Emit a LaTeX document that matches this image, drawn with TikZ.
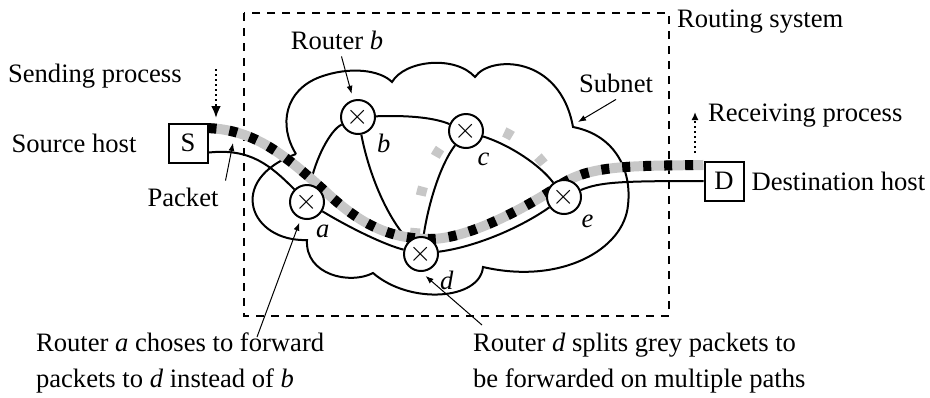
\documentclass[tikz,border=0pt]{standalone}
\usepackage{fontspec}
\setmainfont{Liberation Serif}
\usepackage{tikz}
\usetikzlibrary{positioning, arrows.meta, backgrounds, calc}
\definecolor{pktgrey}{gray}{0.78}
\tikzstyle{router}=[%
      circle, draw=black, line width=1pt, fill=white,
      minimum size=17pt, inner sep=0pt
]
\tikzstyle{host}=[%
      rectangle, draw=black, line width=1pt, fill=white,
      minimum size=19.5pt, inner sep=0pt
]
\tikzstyle{lbl}=[%
      inner sep=1pt, label distance=2pt
]
\tikzstyle{link}=[%
      line width=1pt
]
\tikzstyle{note}=[%
      line width=0.5pt, -{Latex[length=4pt,width=3pt]}
]
\tikzstyle{proc}=[%
      line width=1.2pt, dash pattern=on 1.2pt off 1.3pt
]
\tikzstyle{sysframe}=[%
      line width=1pt, dash pattern=on 4pt off 3.5pt
]
\tikzstyle{pkt}=[%
      line width=5pt, draw=pktgrey,
      postaction={draw=black, line width=5pt, dash pattern=on 4pt off 6.5pt}
]
\tikzstyle{greypkt}=[%
      line width=5pt, draw=pktgrey, dash pattern=on 4.5pt off 16.5pt
]

\begin{document}
\begin{tikzpicture}[x=0.5pt, y=-0.5pt,
    every node/.append style={font=\fontsize{13.3}{18}\selectfont}
  ]
    \useasboundingbox (0,0) rectangle (930,397);

    \node[router, label={[lbl]-72:\textit{a}}] (a) at (307,202) {$\times$};
    \node[router, label={[lbl]-41:\textit{b}}] (b) at (358,117) {$\times$};
    \node[router, label={[lbl]-65:\textit{c}}] (c) at (466,131) {$\times$};
    \node[router, label={[lbl]-41:\textit{d}}] (d) at (421,254) {$\times$};
    \node[router, label={[lbl]-46:\textit{e}}] (e) at (564,197) {$\times$};
    \node[host] (S) at (188,143) {S};
    \node[host] (D) at (724,181) {D};

    \node (srchost)  [left = 12pt of S] {Source host};
    \node (dsthost)  [right = 0pt of D] {Destination host};
    \node (sendproc) [anchor=west] at (1,76) {Sending process};
    \node (recvproc) [anchor=west] at (701,116) {Receiving process};
    \node (routsys)  [anchor=west] at (670,22) {Routing system};
    \node (subnet)   at (616,83) {Subnet};
    \node (routerb)  at (337,40) {Router \textit{b}};
    \node (packet)   at (183,197) {Packet};
    \node (notea) [anchor=north west, align=left] at (29,326)
        {Router \textit{a} choses to forward\\packets to \textit{d} instead of \textit{b}};
    \node (noted) [anchor=north west, align=left] at (466,326)
        {Router \textit{d} splits grey packets to\\be forwarded on multiple paths};

    \coordinate (sendtop) at (216,69);
    \coordinate (sendend) at (216,118);
    \coordinate (recvbot) at (695,153);
    \coordinate (recvtop) at (695,112);
    \coordinate (subnetpt) at (578,122);
    \coordinate (pkttip) at (233,143);
    \coordinate (afrom) at (257,337);
    \coordinate (dfrom) at (482,325);

    \begin{scope}[on background layer]
      % routing system and subnet
      \draw[sysframe] (244,13) rectangle (669,316);
      \draw[link] (296,154) .. controls (278,125) and (285,90) .. (320,77)
          .. controls (350,66) and (380,70) .. (392,82)
          .. controls (405,60) and (455,55) .. (475,77)
          .. controls (490,55) and (560,55) .. (573,127)
          .. controls (615,135) and (632,170) .. (628,205)
          .. controls (624,250) and (560,285) .. (483,267)
          .. controls (480,300) and (410,305) .. (373,273)
          .. controls (350,285) and (305,275) .. (307,240)
          .. controls (250,242) and (225,180) .. (296,154);

      \draw[link] (S.-25) .. controls (250,148) and (270,165) .. (a);
      \draw[link] (a) .. controls (315,160) and (330,130) .. (b);
      \draw[link] (a) .. controls (350,228) and (385,245) .. (d);
      \draw[link] (b) .. controls (368,170) and (385,215) .. (d);
      \draw[link] (b) .. controls (410,115) and (435,118) .. (c);
      \draw[link] (c) .. controls (440,165) and (428,205) .. (d);
      \draw[link] (c) .. controls (510,145) and (540,165) .. (e);
      \draw[link] (d) .. controls (475,247) and (520,228) .. (e);
      \draw[link] (e) .. controls (600,182) and (620,181) .. (D);

      % packets
      \draw[greypkt] (d.110) .. controls (418,185) and (435,140) .. (466,125)
          .. controls (500,120) and (540,150) .. (e.120);
      \draw[pkt] (S.36) .. controls (255,130) and (285,155) .. (327,193)
          .. controls (360,224) and (390,239) .. (430,239)
          .. controls (470,239) and (530,205) .. (560,185)
          .. controls (590,165) and (630,166) .. (D.142);
    \end{scope}

    \draw[proc, -{Latex[length=6pt,width=5pt]}] (sendtop) -- (sendend);
    \draw[proc, -{Latex[length=4pt,width=3.5pt]}] (recvbot) -- (recvtop);
    \draw[note, shorten >=3pt] (routerb) -- (b);
    \draw[note] (subnet.south) -- (subnetpt);
    \draw[note] (packet.north east) -- (pkttip);
    \draw[note, shorten >=2pt] (afrom) -- (a);
    \draw[note, shorten >=3pt] (dfrom) -- (d.south);
\end{tikzpicture}
\end{document}
